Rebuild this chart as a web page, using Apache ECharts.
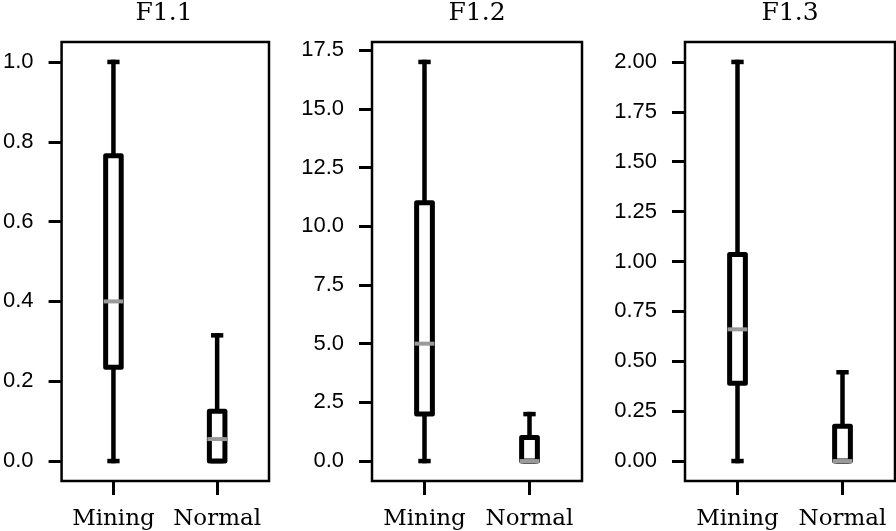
<!DOCTYPE html>
<html>
<head>
<meta charset="utf-8">
<script src="https://cdn.jsdelivr.net/npm/echarts@6/dist/echarts.min.js"></script>
<style>
html,body{margin:0;padding:0;background:#fff;}
#main{width:896px;height:531px;}
</style>
</head>
<body>
<div id="main"></div>
<script>
// ---- data ----
const categories = ['Mining', 'Normal'];
const panelTitles = ['F1.1', 'F1.2', 'F1.3'];
// each row: [min, Q1, median, Q3, max]
const f11Boxes = [[0, 0.235, 0.40, 0.765, 1.0], [0, 0, 0.055, 0.125, 0.315]];
const f12Boxes = [[0, 2, 5, 11, 17], [0, 0, 0, 1, 2]];
const f13Boxes = [[0, 0.39, 0.66, 1.035, 2.0], [0, 0, 0, 0.175, 0.445]];
const f11Ticks = [0, 0.2, 0.4, 0.6, 0.8, 1.0];
const f12Ticks = [0, 2.5, 5, 7.5, 10, 12.5, 15, 17.5];
const f13Ticks = [0, 0.25, 0.5, 0.75, 1.0, 1.25, 1.5, 1.75, 2.0];
const f11TickLabels = ['0.0', '0.2', '0.4', '0.6', '0.8', '1.0'];
const f12TickLabels = ['0.0', '2.5', '5.0', '7.5', '10.0', '12.5', '15.0', '17.5'];
const f13TickLabels = ['0.00', '0.25', '0.50', '0.75', '1.00', '1.25', '1.50', '1.75', '2.00'];
const f11Range = [-0.05, 1.05];
const f12Range = [-0.85, 17.85];
const f13Range = [-0.1, 2.1];

const boxesList = [f11Boxes, f12Boxes, f13Boxes];
const ticksList = [f11Ticks, f12Ticks, f13Ticks];
const tickLabelsList = [f11TickLabels, f12TickLabels, f13TickLabels];
const rangesList = [f11Range, f12Range, f13Range];

// ---- layout ----
const gridLefts = [59, 372, 685];
const gridWidth = 210;
const gridTop = 42;
const gridHeight = 439;
const sansFont = '"Liberation Sans", Arial, sans-serif';
const serifFont = '"DejaVu Serif", serif';

const chart = echarts.init(document.getElementById('main'), null, {renderer: 'canvas'});

const grids = [], xAxes = [], yAxes = [], series = [], titles = [];
for (let i = 0; i < 3; i++) {
  grids.push({left: gridLefts[i], top: gridTop, width: gridWidth, height: gridHeight,
    show: true, borderColor: '#000', borderWidth: 2.5, backgroundColor: '#fff', containLabel: false});
  titles.push({text: panelTitles[i], left: gridLefts[i] + gridWidth / 2, top: 1, textAlign: 'center',
    padding: 0, textStyle: {fontFamily: serifFont, fontSize: 25, fontWeight: 'normal', color: '#000'}});
  xAxes.push({type: 'category', gridIndex: i, data: categories, boundaryGap: true, position: 'bottom',
    axisLine: {show: false, onZero: false},
    axisTick: {show: true, alignWithLabel: true, inside: false, length: 14, lineStyle: {color: '#000', width: 3}},
    axisLabel: {margin: 27, interval: 0, fontFamily: serifFont, fontSize: 23, color: '#000'},
    splitLine: {show: false}});
  const labels = tickLabelsList[i];
  const ticks = ticksList[i];
  yAxes.push({type: 'value', gridIndex: i, min: rangesList[i][0], max: rangesList[i][1],
    axisLine: {show: false, onZero: false},
    axisTick: {show: true, inside: false, length: 13, customValues: ticks, lineStyle: {color: '#000', width: 3}},
    axisLabel: {margin: 28, fontFamily: sansFont, fontSize: 22, color: '#000', customValues: ticks,
      formatter: function (v) {
        const idx = ticks.findIndex(t => Math.abs(t - v) < 1e-9);
        return idx >= 0 ? labels[idx] : '';
      }},
    splitLine: {show: false}});
  const boxData = boxesList[i].map((b, k) => [k].concat(b));
  series.push({
    type: 'custom', xAxisIndex: i, yAxisIndex: i, data: boxData,
    encode: {x: 0, y: [1, 2, 3, 4, 5]},
    clip: false,
    renderItem: function (params, api) {
      const x = api.value(0);
      const band = api.size([1, 0])[0];
      const bw = band * 0.15;
      const cw = bw * 0.5;
      const pMin = api.coord([x, api.value(1)]);
      const pQ1 = api.coord([x, api.value(2)]);
      const pMed = api.coord([x, api.value(3)]);
      const pQ3 = api.coord([x, api.value(4)]);
      const pMax = api.coord([x, api.value(5)]);
      const cx = pMin[0];
      const lineStyle = {stroke: '#000', lineWidth: 4.5, lineCap: 'square', fill: null};
      return {
        type: 'group',
        children: [
          {type: 'line', shape: {x1: cx, y1: pQ1[1], x2: cx, y2: pMin[1]}, style: lineStyle},
          {type: 'line', shape: {x1: cx, y1: pQ3[1], x2: cx, y2: pMax[1]}, style: lineStyle},
          {type: 'line', shape: {x1: cx - cw / 2, y1: pMin[1], x2: cx + cw / 2, y2: pMin[1]}, style: lineStyle},
          {type: 'line', shape: {x1: cx - cw / 2, y1: pMax[1], x2: cx + cw / 2, y2: pMax[1]}, style: lineStyle},
          {type: 'rect', shape: {x: cx - bw / 2, y: pQ3[1], width: bw, height: pQ1[1] - pQ3[1]},
            style: {fill: '#fff', stroke: '#000', lineWidth: 5, lineJoin: 'round'}},
          {type: 'line', shape: {x1: cx - bw / 2, y1: pMed[1], x2: cx + bw / 2, y2: pMed[1]},
            style: {stroke: '#9a9a9a', lineWidth: 4, lineCap: 'square'}}
        ]
      };
    }
  });
}

chart.setOption({
  animation: false,
  backgroundColor: '#fff',
  title: titles,
  grid: grids,
  xAxis: xAxes,
  yAxis: yAxes,
  series: series
});
</script>
</body>
</html>
